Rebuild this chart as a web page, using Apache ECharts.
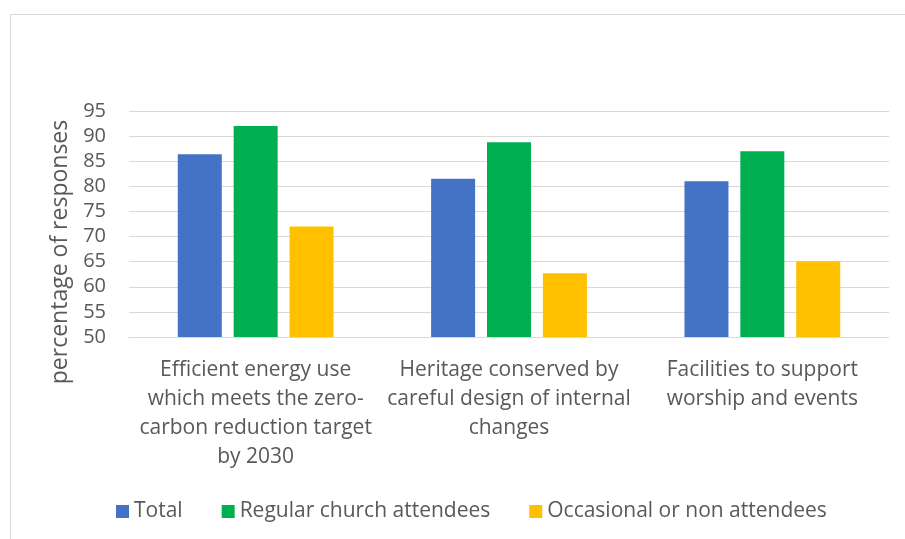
<!DOCTYPE html>
<html><head><meta charset="utf-8">
<script src="https://cdn.jsdelivr.net/npm/echarts@6/dist/echarts.min.js"></script>
<style>html,body{margin:0;padding:0;background:#fff}#c{width:905px;height:539px}</style>
</head><body><div id="c"></div>
<script>
const categories = [
  "Efficient energy use\nwhich meets the zero-\ncarbon reduction target\nby 2030",
  "Heritage conserved by\ncareful design of internal\nchanges",
  "Facilities to support\nworship and events"
];
const seriesNames = ["Total", "Regular church attendees", "Occasional or non attendees"];
const totalValues = [86.4, 81.5, 81.0];
const regularValues = [92.0, 88.8, 87.0];
const occasionalValues = [72.0, 62.7, 65.1];
const colors = ["#4472C4", "#00B050", "#FFC000"];
const yAxisTitle = "percentage of responses";

const FONT = "Open Sans";
const chart = echarts.init(document.getElementById('c'));
const mk = (name, data, color) => ({
  name, type: 'bar', data, barWidth: 44, barGap: '27%',
  itemStyle: { color }
});
chart.setOption({
  animation: false,
  textStyle: { fontFamily: FONT },
  graphic: [
    { type: 'rect', left: 8, top: 12, shape: { width: 1200, height: 1200 },
      style: { fill: 'none', stroke: '#d9d9d9', lineWidth: 1 }, z: 0 },
    { type: 'text', x: 60, y: 252, rotation: Math.PI / 2,
      style: { text: yAxisTitle, fill: '#595959', font: '23px "' + FONT + '"',
               textAlign: 'center', textVerticalAlign: 'middle' } }
  ],
  legend: {
    data: seriesNames, top: 496, left: 111, itemGap: 39,
    itemWidth: 13, itemHeight: 13, icon: 'rect',
    textStyle: { color: '#595959', fontSize: 21, fontFamily: FONT }
  },
  grid: { left: 129, right: 16, top: 111, bottom: 202, containLabel: false },
  xAxis: {
    type: 'category', data: categories,
    axisLine: { lineStyle: { color: '#d9d9d9', width: 1 } },
    axisTick: { show: false },
    axisLabel: { color: '#595959', fontSize: 21, lineHeight: 29, margin: 19,
                 interval: 0, fontFamily: FONT }
  },
  yAxis: {
    type: 'value', min: 50, max: 95, interval: 5,
    axisLine: { show: false }, axisTick: { show: false },
    axisLabel: { color: '#595959', fontSize: 20, margin: 23, fontFamily: FONT },
    splitLine: { lineStyle: { color: '#d9d9d9', width: 1 } }
  },
  series: [
    mk(seriesNames[0], totalValues, colors[0]),
    mk(seriesNames[1], regularValues, colors[1]),
    mk(seriesNames[2], occasionalValues, colors[2])
  ]
});
</script></body></html>
